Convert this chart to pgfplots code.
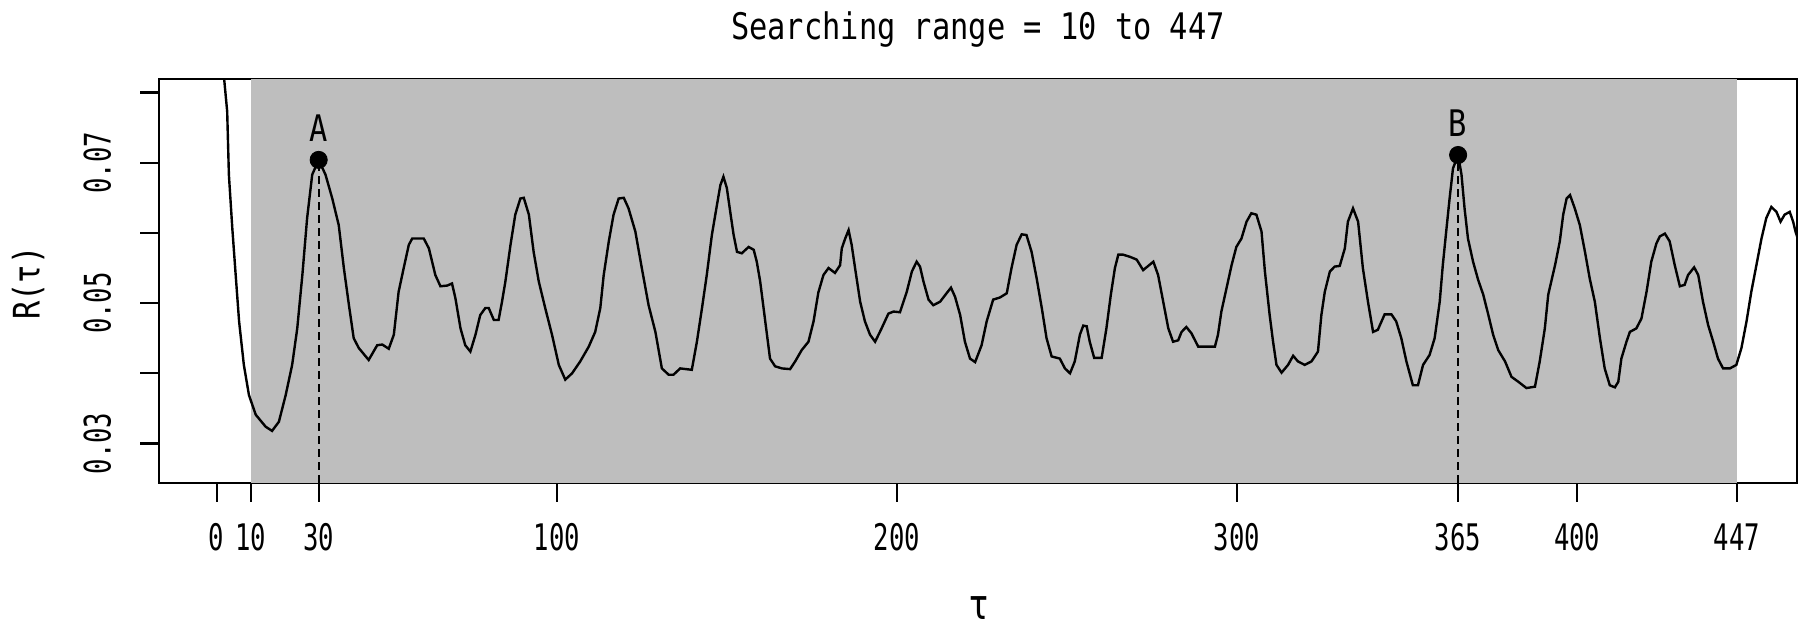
\documentclass[border=0pt]{standalone}
\usepackage{fontspec}
\usepackage{pgfplots}
\pgfplotsset{compat=1.18}
\newfontfamily\tickfamily{DejaVu Sans Mono}[FakeStretch=0.70]
\newfontfamily\labfamily{DejaVu Sans Mono}[FakeStretch=0.83]
\newcommand\tf{\fontsize{18.3pt}{20pt}\tickfamily}
\newcommand\lf{\fontsize{18.3pt}{20pt}\labfamily}
\definecolor{shade}{HTML}{BEBEBE}
\begin{document}
\begin{tikzpicture}
\path[use as bounding box] (-79.7pt,-72.65pt) rectangle (823.3pt,241.35pt);
\begin{axis}[
  at={(0pt,0pt)}, anchor=south west,
  width=818.9pt, height=201.7pt, scale only axis,
  xmin=-16.83, xmax=464.7, ymin=0.02442, ymax=0.08188,
  scaled y ticks=false, scaled x ticks=false,
  axis line style={line width=1.1pt},
  tick align=outside, major tick length=9.5pt,
  every tick/.style={black, line width=1.1pt},
  xtick pos=left, ytick pos=left,
  xtick={0,10,30,100,200,300,365,400,447},
  xticklabels={0,10,30,100,200,300,365,400,447},
  ytick={0.03,0.04,0.05,0.06,0.07,0.08},
  yticklabels={0.03,{},0.05,{},0.07,{}},
  xticklabel style={font=\tf, anchor=center},
  xticklabel shift=17.5pt,
  yticklabel style={font=\tf, rotate=90, anchor=center},
  yticklabel shift=21.5pt,
  title={Searching range = 10 to 447},
  title style={font=\lf, at={(axis description cs:0.4998,1.093)}, anchor=center, inner sep=0pt},
  xlabel={\fontsize{21pt}{22pt}\selectfont τ},
  xlabel style={font=\lf, at={(axis description cs:0.5004,-0.31)}, anchor=center, inner sep=0pt},
  ylabel={R(τ)},
  ylabel style={font=\lf, at={(axis description cs:-0.0802,0.495)}, anchor=center, inner sep=0pt},
  clip=true,
]
\addplot[draw=none, fill=shade] coordinates {(10,0.0830) (447,0.0830)} \closedcycle;
\addplot[black, line width=1.1pt, dash pattern=on 4pt off 2.5pt] coordinates {(30,0.02442) (30,0.0704)};
\addplot[black, line width=1.1pt, dash pattern=on 4pt off 2.5pt] coordinates {(365,0.02442) (365,0.0711)};
\addplot[black, line width=1.2pt] coordinates {
(1,0.0900) (2,0.0830) (3.1,0.0773) (3.6,0.0683) (4.6,0.0607) (5.6,0.0540) (6.6,0.0474)
(8.0,0.0412) (9.5,0.0369) (11.5,0.0341) (14.4,0.0324) (16.3,0.0318) (18.3,0.0331)
(20.3,0.0369) (22.2,0.0412) (23.7,0.0464) (25.2,0.0540) (26.6,0.0621) (28.1,0.0683)
(30,0.0704) (32.0,0.0683) (34.0,0.0649) (35.9,0.0611) (37.4,0.0550) (38.9,0.0497)
(40.3,0.0450) (41.8,0.0436) (44.7,0.0419) (47.2,0.0440) (48.7,0.0441) (50.6,0.0435)
(52.1,0.0455) (53.5,0.0516) (55.0,0.0550) (56.5,0.0583) (57.5,0.0592) (60.9,0.0592)
(62.4,0.0578) (64.3,0.0540) (65.8,0.0524) (67.8,0.0525) (69.2,0.0528) (70.2,0.0507)
(71.7,0.0464) (73.1,0.0440) (74.6,0.0431) (76.1,0.0455) (77.5,0.0483) (79.0,0.0493)
(80.0,0.0493) (81.5,0.0476) (82.9,0.0476) (83.9,0.0502) (84.9,0.0531) (86.4,0.0583)
(87.8,0.0626) (89.3,0.0649) (90.3,0.0650) (91.8,0.0626) (93.2,0.0573) (94.7,0.0531)
(96.6,0.0493) (98.6,0.0455) (100.6,0.0412) (102.5,0.0391) (104.5,0.0400) (106.9,0.0417)
(109.4,0.0438) (111.3,0.0459) (112.8,0.0493) (113.8,0.0540) (115.3,0.0588) (116.7,0.0626)
(118.2,0.0649) (119.7,0.0650) (121.1,0.0635) (123.1,0.0602) (125.0,0.0550) (127.0,0.0497)
(129.0,0.0459) (130.9,0.0407) (132.9,0.0398) (134.3,0.0398) (136.3,0.0407) (139.7,0.0405)
(141.2,0.0445) (142.7,0.0493) (144.1,0.0540) (145.6,0.0597) (147.1,0.0640) (148.1,0.0668)
(149.0,0.0680) (150.0,0.0664) (151.0,0.0630) (152.0,0.0597) (153.0,0.0573) (154.4,0.0571)
(156.4,0.0580) (157.9,0.0576) (158.8,0.0559) (159.8,0.0531) (161.3,0.0474) (162.7,0.0421)
(164.2,0.0410) (166.2,0.0407) (168.6,0.0406) (170.1,0.0417) (172.0,0.0433) (174.0,0.0445)
(175.5,0.0474) (176.9,0.0515) (178.4,0.0540) (179.9,0.0550) (181.8,0.0543) (183.3,0.0554)
(183.8,0.0578) (184.8,0.0592) (185.8,0.0604) (186.7,0.0583) (187.7,0.0550) (189.2,0.0502)
(190.6,0.0474) (192.1,0.0455) (193.6,0.0445) (195.5,0.0464) (197.5,0.0485) (199.0,0.0488)
(200.9,0.0487) (202.9,0.0516) (204.4,0.0545) (205.8,0.0559) (206.8,0.0552) (207.8,0.0531)
(209.3,0.0505) (210.7,0.0497) (212.7,0.0502) (214.6,0.0514) (215.9,0.0522) (217.1,0.0509)
(218.6,0.0483) (220.0,0.0445) (221.5,0.0421) (223.0,0.0416) (224.9,0.0440) (226.4,0.0474)
(228.3,0.0505) (230.3,0.0508) (232.3,0.0514) (233.7,0.0550) (235.2,0.0583) (236.7,0.0598)
(238.1,0.0597) (239.6,0.0573) (241.1,0.0535) (242.6,0.0493) (244.0,0.0450) (245.5,0.0424)
(247.9,0.0421) (249.4,0.0407) (250.9,0.0400) (252.3,0.0417) (253.8,0.0455) (254.8,0.0468)
(255.8,0.0467) (256.7,0.0445) (258.0,0.0422) (260.2,0.0422) (261.6,0.0464) (262.9,0.0512)
(264.1,0.0550) (265.1,0.0569) (266.5,0.0569) (268.5,0.0566) (270.5,0.0562) (272.4,0.0547)
(273.9,0.0553) (275.4,0.0559) (276.8,0.0540) (278.3,0.0502) (279.8,0.0464) (281.2,0.0445)
(282.7,0.0447) (283.7,0.0459) (285.1,0.0466) (286.6,0.0457) (288.6,0.0438) (291.0,0.0438)
(293.5,0.0438) (294.4,0.0455) (295.4,0.0488) (296.9,0.0521) (298.4,0.0554) (299.8,0.0580)
(301.3,0.0592) (302.8,0.0616) (304.2,0.0628) (305.7,0.0626) (307.2,0.0602) (308.2,0.0545)
(309.6,0.0483) (310.6,0.0445) (311.6,0.0412) (313.1,0.0401) (315.0,0.0412) (316.5,0.0425)
(317.9,0.0417) (319.9,0.0412) (321.9,0.0417) (323.8,0.0431) (324.8,0.0483) (325.8,0.0516)
(327.3,0.0545) (328.7,0.0552) (330.2,0.0553) (331.7,0.0578) (332.6,0.0616) (334.1,0.0635)
(335.6,0.0616) (337.0,0.0550) (338.5,0.0502) (340.0,0.0459) (341.4,0.0462) (343.4,0.0484)
(345.4,0.0484) (346.8,0.0474) (348.3,0.0450) (349.8,0.0417) (351.7,0.0383) (353.2,0.0383)
(354.7,0.0412) (356.6,0.0426) (358.1,0.0450) (359.6,0.0502) (360.5,0.0554) (361.5,0.0602)
(362.5,0.0649) (363.5,0.0692) (365,0.0711) (366.0,0.0683) (366.9,0.0635) (367.9,0.0592)
(369.4,0.0559) (370.9,0.0533) (372.4,0.0512) (373.9,0.0483) (375.3,0.0455) (376.8,0.0433)
(378.8,0.0417) (380.7,0.0395) (382.7,0.0388) (385.1,0.0379) (387.6,0.0381) (389.0,0.0417)
(390.5,0.0464) (391.5,0.0512) (393.5,0.0554) (394.9,0.0588) (395.9,0.0626) (396.9,0.0649)
(397.9,0.0654) (399.3,0.0635) (400.8,0.0611) (402.3,0.0573) (403.7,0.0535) (405.2,0.0502)
(406.7,0.0450) (408.1,0.0407) (409.6,0.0383) (411.1,0.0380) (412.1,0.0388) (413.0,0.0421)
(414.5,0.0445) (415.5,0.0459) (417.4,0.0464) (418.9,0.0478) (420.4,0.0516) (421.8,0.0559)
(423.3,0.0585) (424.3,0.0595) (425.8,0.0599) (427.2,0.0588) (428.7,0.0554) (430.2,0.0524)
(431.6,0.0526) (432.6,0.0540) (434.4,0.0551) (435.6,0.0540) (437.0,0.0502) (438.5,0.0469)
(440.0,0.0445) (441.4,0.0421) (442.9,0.0407) (444.9,0.0407) (446.8,0.0412) (448.3,0.0436)
(449.8,0.0474) (451.2,0.0516) (452.7,0.0554) (454.2,0.0592) (455.6,0.0621) (457.1,0.0637)
(458.6,0.0630) (459.8,0.0616) (461.0,0.0626) (462.5,0.0630) (463.5,0.0616) (464.2,0.0602)
(465.0,0.0590)
};
\addplot[only marks, mark=*, mark size=4.3pt, black,
  nodes near coords, point meta=explicit symbolic,
  nodes near coords style={font=\lf, anchor=center, yshift=16pt}]
  coordinates {(30,0.0704)[A] (365,0.0711)[B]};
\end{axis}
\end{tikzpicture}
\end{document}
